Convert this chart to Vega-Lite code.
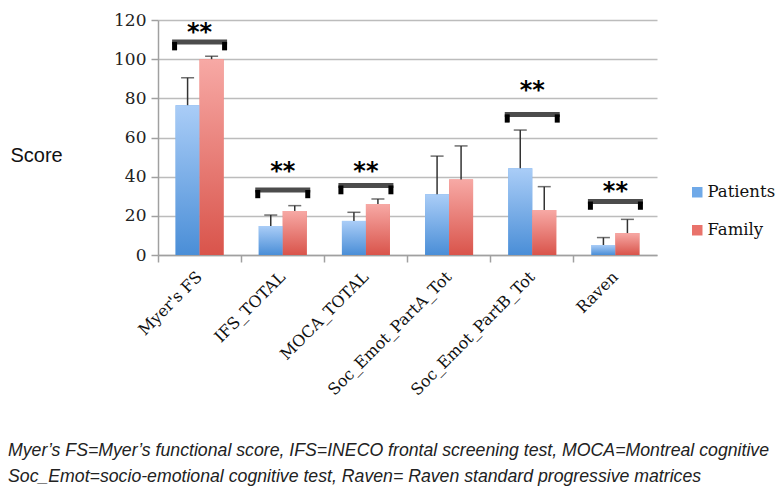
{
  "$schema": "https://vega.github.io/schema/vega-lite/v6.json",
  "width": 499,
  "height": 235,
  "autosize": "none",
  "padding": {"left": 158, "top": 20, "right": 120, "bottom": 232},
  "background": "white",
  "config": {
    "view": {"stroke": null},
    "axisY": {
      "labelOverlap": false,
      "labelFont": "DejaVu Serif",
      "labelFontSize": 17,
      "labelColor": "#222222",
      "labelPadding": 5,
      "gridColor": "#bcbcbc",
      "gridWidth": 1.5,
      "domainColor": "#a0a0a0",
      "domainWidth": 1.5,
      "tickColor": "#a0a0a0",
      "tickWidth": 1.5,
      "tickSize": 7
    }
  },
  "title": {
    "text": ["Myer’s FS=Myer’s functional score, IFS=INECO frontal screening test, MOCA=Montreal cognitive", "Soc_Emot=socio-emotional cognitive test, Raven= Raven standard progressive matrices"],
    "orient": "bottom",
    "anchor": "start",
    "frame": "group",
    "dx": -150,
    "offset": 44,
    "font": "Liberation Sans",
    "fontSize": 17.7,
    "fontStyle": "italic",
    "fontWeight": "normal",
    "color": "#222222",
    "lineHeight": 26
  },
  "datasets": {
    "bars": [
      {"cat": "Myer's FS", "group": "Patients", "value": 76.5, "err": 90.5},
      {"cat": "Myer's FS", "group": "Family", "value": 100, "err": 101.5},
      {"cat": "IFS_TOTAL", "group": "Patients", "value": 14.8, "err": 20.4},
      {"cat": "IFS_TOTAL", "group": "Family", "value": 22.5, "err": 25.2},
      {"cat": "MOCA_TOTAL", "group": "Patients", "value": 17.4, "err": 21.8},
      {"cat": "MOCA_TOTAL", "group": "Family", "value": 26, "err": 28.6},
      {"cat": "Soc_Emot_PartA_Tot", "group": "Patients", "value": 31, "err": 50.5},
      {"cat": "Soc_Emot_PartA_Tot", "group": "Family", "value": 38.6, "err": 55.7},
      {"cat": "Soc_Emot_PartB_Tot", "group": "Patients", "value": 44.3, "err": 63.8},
      {"cat": "Soc_Emot_PartB_Tot", "group": "Family", "value": 23, "err": 34.9},
      {"cat": "Raven", "group": "Patients", "value": 5.1, "err": 8.9},
      {"cat": "Raven", "group": "Family", "value": 11.2, "err": 18.2}
    ],
    "sig": [
      {"cat": "Myer's FS", "top": 108.8, "leg": 104.5, "star": 115.4, "label": "**"},
      {"cat": "IFS_TOTAL", "top": 33.2, "leg": 29, "star": 44.4, "label": "**"},
      {"cat": "MOCA_TOTAL", "top": 35.5, "leg": 31, "star": 44.4, "label": "**"},
      {"cat": "Soc_Emot_PartB_Tot", "top": 71.8, "leg": 67.6, "star": 85.6, "label": "**"},
      {"cat": "Raven", "top": 27.3, "leg": 23.1, "star": 34.4, "label": "**"}
    ]
  },
  "encoding": {
    "x": {
      "field": "cat",
      "type": "nominal",
      "sort": null,
      "scale": {"paddingInner": 0, "paddingOuter": 0},
      "axis": {
        "title": null,
        "bandPosition": 0,
        "labelOffset": 0,
        "labelAngle": -45,
        "labelAlign": "right",
        "labelBaseline": "middle",
        "labelPadding": 12,
        "labelFont": "DejaVu Serif",
        "labelFontSize": 16,
        "labelColor": "#111111",
        "domainColor": "#a0a0a0",
        "domainWidth": 1.5,
        "tickColor": "#a0a0a0",
        "tickWidth": 1.5,
        "tickSize": 7,
        "grid": false
      }
    }
  },
  "layer": [
    {
      "data": {"name": "bars"},
      "mark": {"type": "bar"},
      "encoding": {
        "xOffset": {"field": "group", "type": "nominal", "sort": ["Patients", "Family"], "scale": {"paddingInner": 0, "paddingOuter": 0.733}},
        "y": {
          "field": "value",
          "type": "quantitative",
          "scale": {"domain": [0, 120], "nice": false},
          "axis": {
            "values": [0, 20, 40, 60, 80, 100, 120],
            "tickCount": 7,
            "title": "Score",
            "titleAngle": 0,
            "titleX": -148,
            "titleY": 135,
            "titleAlign": "left",
            "titleBaseline": "middle",
            "titleFont": "Liberation Sans",
            "titleFontSize": 20,
            "titleFontWeight": "normal",
            "titleColor": "#111111"
          }
        },
        "color": {
          "field": "group",
          "type": "nominal",
          "sort": ["Patients", "Family"],
          "scale": {"domain": ["Patients", "Family"], "range": ["#6fa9e8", "#e9726b"]},
          "legend": {
            "title": null,
            "orient": "none",
            "legendX": 531,
            "legendY": 164,
            "padding": 0,
            "symbolType": "square",
            "symbolSize": 110,
            "symbolStrokeWidth": 0,
            "labelFont": "DejaVu Serif",
            "labelFontSize": 16.5,
            "labelColor": "#111111",
            "labelOffset": 2,
            "rowPadding": 21
          }
        }
      }
    },
    {
      "data": {"name": "bars"},
      "transform": [{"filter": "datum.group === 'Patients'"}],
      "mark": {
        "type": "bar",
        "color": {"gradient": "linear", "x1": 0, "y1": 0, "x2": 0, "y2": 1, "stops": [{"offset": 0, "color": "#aacdf7"}, {"offset": 1, "color": "#4a8ed7"}]}
      },
      "encoding": {
        "xOffset": {"field": "group", "type": "nominal", "sort": ["Patients", "Family"]},
        "y": {"field": "value", "type": "quantitative", "axis": {"values": [0, 20, 40, 60, 80, 100, 120], "tickCount": 7}}
      }
    },
    {
      "data": {"name": "bars"},
      "transform": [{"filter": "datum.group === 'Family'"}],
      "mark": {
        "type": "bar",
        "color": {"gradient": "linear", "x1": 0, "y1": 0, "x2": 0, "y2": 1, "stops": [{"offset": 0, "color": "#f7a9a5"}, {"offset": 1, "color": "#d9544b"}]}
      },
      "encoding": {
        "xOffset": {"field": "group", "type": "nominal", "sort": ["Patients", "Family"]},
        "y": {"field": "value", "type": "quantitative", "axis": {"values": [0, 20, 40, 60, 80, 100, 120], "tickCount": 7}}
      }
    },
    {
      "data": {"name": "bars"},
      "mark": {"type": "rule", "color": "#333333", "strokeWidth": 1.5},
      "encoding": {
        "xOffset": {"field": "group", "type": "nominal", "sort": ["Patients", "Family"]},
        "y": {"field": "value", "type": "quantitative", "axis": {"values": [0, 20, 40, 60, 80, 100, 120], "tickCount": 7}},
        "y2": {"field": "err"}
      }
    },
    {
      "data": {"name": "bars"},
      "mark": {"type": "tick", "color": "#333333", "thickness": 1.5, "size": 13},
      "encoding": {
        "xOffset": {"field": "group", "type": "nominal", "sort": ["Patients", "Family"]},
        "y": {"field": "err", "type": "quantitative", "axis": {"values": [0, 20, 40, 60, 80, 100, 120], "tickCount": 7}}
      }
    },
    {
      "data": {"name": "sig"},
      "mark": {"type": "tick", "color": "#000000", "thickness": 5, "size": 55},
      "encoding": {
        "y": {"field": "top", "type": "quantitative", "axis": {"values": [0, 20, 40, 60, 80, 100, 120], "tickCount": 7}}
      }
    },
    {
      "data": {"name": "sig"},
      "mark": {"type": "rule", "color": "#000000", "strokeWidth": 5, "xOffset": -25},
      "encoding": {
        "y": {"field": "leg", "type": "quantitative", "axis": {"values": [0, 20, 40, 60, 80, 100, 120], "tickCount": 7}},
        "y2": {"field": "top"}
      }
    },
    {
      "data": {"name": "sig"},
      "mark": {"type": "rule", "color": "#000000", "strokeWidth": 5, "xOffset": 25},
      "encoding": {
        "y": {"field": "leg", "type": "quantitative", "axis": {"values": [0, 20, 40, 60, 80, 100, 120], "tickCount": 7}},
        "y2": {"field": "top"}
      }
    },
    {
      "data": {"name": "sig"},
      "mark": {"type": "text", "font": "DejaVu Sans", "fontWeight": "bold", "fontSize": 24, "baseline": "middle", "align": "center", "color": "#000000", "dy": 4},
      "encoding": {
        "y": {"field": "star", "type": "quantitative", "axis": {"values": [0, 20, 40, 60, 80, 100, 120], "tickCount": 7}},
        "text": {"field": "label"}
      }
    }
  ]
}
